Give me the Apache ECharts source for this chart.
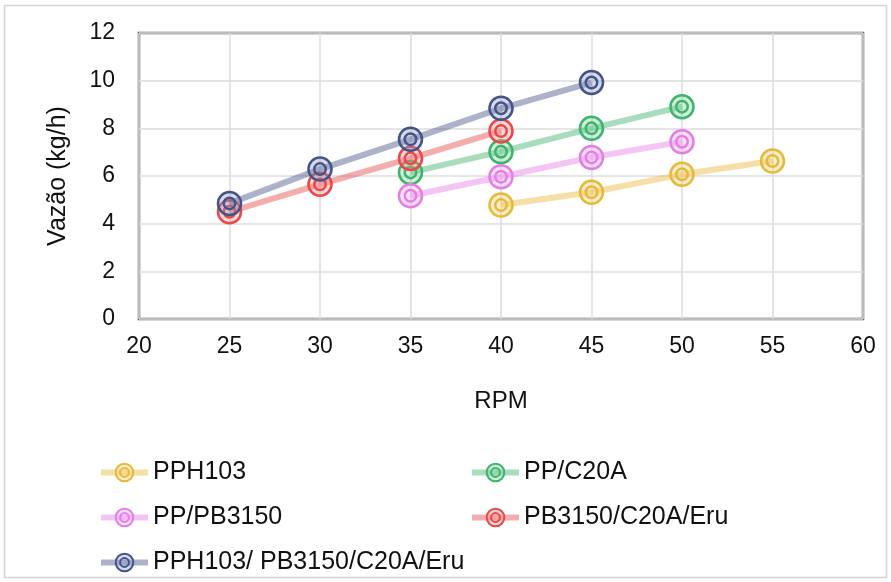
<!DOCTYPE html>
<html>
<head>
<meta charset="utf-8">
<script src="https://cdn.jsdelivr.net/npm/echarts@6/dist/echarts.min.js"></script>
<style>
html,body{margin:0;padding:0;background:#fff;}
#chart{width:891px;height:582px;}
</style>
</head>
<body>
<div id="chart"></div>
<script>
// ---- data ----
var seriesNames = ['PPH103', 'PP/C20A', 'PP/PB3150', 'PB3150/C20A/Eru', 'PPH103/ PB3150/C20A/Eru'];
var rpmPPH103 = [40, 45, 50, 55];
var flowPPH103 = [4.78, 5.32, 6.07, 6.63];
var rpmPPC20A = [35, 40, 45, 50];
var flowPPC20A = [6.15, 7.02, 8.0, 8.91];
var rpmPPPB3150 = [35, 40, 45, 50];
var flowPPPB3150 = [5.17, 5.97, 6.78, 7.44];
var rpmPB3150C20AEru = [25, 30, 35, 40];
var flowPB3150C20AEru = [4.5, 5.65, 6.74, 7.89];
var rpmAll = [25, 30, 35, 40, 45];
var flowAll = [4.85, 6.29, 7.54, 8.84, 9.92];
var xTicks = [20, 25, 30, 35, 40, 45, 50, 55, 60];
var yTicks = [0, 2, 4, 6, 8, 10, 12];

var colors = ['#e8b83a', '#3cb46c', '#e57de6', '#e84848', '#44548a'];
var fills = ['rgba(240,205,110,0.35)', 'rgba(120,205,150,0.35)', 'rgba(240,170,240,0.35)', 'rgba(240,140,140,0.35)', 'rgba(140,150,190,0.35)'];

function pairs(xs, ys) { return xs.map(function (x, i) { return [x, ys[i]]; }); }
var dataSets = [
  pairs(rpmPPH103, flowPPH103),
  pairs(rpmPPC20A, flowPPC20A),
  pairs(rpmPPPB3150, flowPPPB3150),
  pairs(rpmPB3150C20AEru, flowPB3150C20AEru),
  pairs(rpmAll, flowAll)
];

var ringPath = 'path://M2,12A10,10,0,1,1,22,12A10,10,0,1,1,2,12ZM7,12A5,5,0,1,1,17,12A5,5,0,1,1,7,12Z';
var FONT = 'Liberation Sans, Arial, sans-serif';

var series = seriesNames.map(function (name, i) {
  return {
    name: name,
    type: 'line',
    data: dataSets[i],
    symbol: ringPath,
    symbolSize: 23,
    z: 2 + i,
    lineStyle: { color: colors[i], width: 6, opacity: 0.45 },
    itemStyle: { color: fills[i], borderColor: colors[i], borderWidth: 2.5 },
    emphasis: { disabled: true },
    animation: false
  };
});

var legendCommon = {
  top: 455, orient: 'vertical', itemWidth: 47, itemHeight: 22, itemGap: 20,
  textStyle: { fontSize: 25, color: '#111', fontFamily: FONT },
  lineStyle: { width: 6, opacity: 0.45 },
  selectedMode: false
};

var chart = echarts.init(document.getElementById('chart'));
chart.setOption({
  backgroundColor: '#fff',
  animation: false,
  textStyle: { fontFamily: FONT },
  graphic: [{
    type: 'rect', shape: { x: 4.5, y: 5.5, width: 882, height: 572 },
    style: { fill: 'none', stroke: '#d4d4d4', lineWidth: 1.5 }, z: -10
  }],
  grid: { left: 139, right: 28, top: 33, bottom: 263, show: true, borderColor: '#5a5a5a', borderWidth: 2.5, backgroundColor: 'transparent' },
  xAxis: {
    type: 'value', min: xTicks[0], max: xTicks[xTicks.length - 1], interval: 5,
    name: 'RPM', nameLocation: 'middle', nameGap: 70,
    nameTextStyle: { fontSize: 24, color: '#111', fontFamily: FONT },
    axisLine: { show: false },
    axisTick: { show: false },
    axisLabel: { fontSize: 23, color: '#111', margin: 16, fontFamily: FONT },
    splitLine: { show: true, lineStyle: { color: '#dcdcdc', width: 1.5 } }
  },
  yAxis: {
    type: 'value', min: yTicks[0], max: yTicks[yTicks.length - 1], interval: 2,
    name: 'Vazão (kg/h)', nameLocation: 'middle', nameGap: 68, nameRotate: 90,
    nameTextStyle: { fontSize: 25, color: '#111', fontFamily: FONT },
    axisLine: { show: false },
    axisTick: { show: false },
    axisLabel: { fontSize: 23, color: '#111', margin: 24, fontFamily: FONT },
    splitLine: { show: true, lineStyle: { color: '#dcdcdc', width: 1.5 } }
  },
  legend: [
    Object.assign({ left: 93, data: [seriesNames[0], seriesNames[2], seriesNames[4]] }, legendCommon),
    Object.assign({ left: 464, data: [seriesNames[1], seriesNames[3]] }, legendCommon)
  ],
  series: series
});
</script>
</body>
</html>
